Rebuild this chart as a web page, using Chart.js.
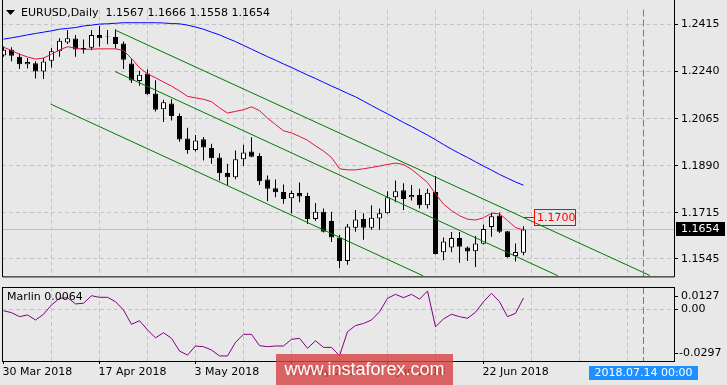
<!DOCTYPE html>
<html>
<head>
<meta charset="utf-8">
<script src="https://cdn.jsdelivr.net/npm/chart.js@4.4.0/dist/chart.umd.min.js"></script>
<style>
  html, body { margin: 0; padding: 0; background: #e8e8e8; }
  #wrap { position: relative; width: 727px; height: 385px; overflow: hidden; background: #e8e8e8; }
  #main { position: absolute; left: 0; top: 0; }
  #sub { position: absolute; left: 0; top: 286px; }
  #wm {
    position: absolute; left: 276px; top: 354px; width: 177px; height: 31px;
    background: rgba(214, 70, 70, 0.82); color: #fff;
    font: 18px "Liberation Sans", Arial, sans-serif; line-height: 31px; text-align: center;
  }
</style>
</head>
<body>
<div id="wrap">
  <canvas id="main" width="727" height="286"></canvas>
  <canvas id="sub" width="727" height="99"></canvas>
  <div id="wm">www.instaforex.com</div>
</div>
<script>
// daily bars, EURUSD
const dates = ['30 Mar','2 Apr','3 Apr','4 Apr','5 Apr','6 Apr','9 Apr','10 Apr','11 Apr','12 Apr',
  '13 Apr','16 Apr','17 Apr','18 Apr','19 Apr','20 Apr','23 Apr','24 Apr','25 Apr','26 Apr',
  '27 Apr','30 Apr','1 May','2 May','3 May','4 May','7 May','8 May','9 May','10 May',
  '11 May','14 May','15 May','16 May','17 May','18 May','21 May','22 May','23 May','24 May',
  '25 May','28 May','29 May','30 May','31 May','1 Jun','4 Jun','5 Jun','6 Jun','7 Jun',
  '8 Jun','11 Jun','12 Jun','13 Jun','14 Jun','15 Jun','18 Jun','19 Jun','20 Jun','21 Jun',
  '22 Jun','25 Jun','26 Jun','27 Jun','28 Jun','29 Jun'];

const open = [1.2299,1.2321,1.2295,1.2267,1.2271,1.2240,1.2280,1.2315,1.2348,1.2362,
  1.2327,1.2328,1.2375,1.2372,1.2368,1.2344,1.2270,1.2205,1.2233,1.2158,
  1.2100,1.2121,1.2075,1.1991,1.1949,1.1989,1.1956,1.1921,1.1863,1.1848,
  1.1914,1.1943,1.1926,1.1839,1.1807,1.1793,1.1770,1.1789,1.1778,1.1693,
  1.1720,1.1685,1.1624,1.1537,1.1660,1.1693,1.1660,1.1695,1.1714,1.1773,
  1.1799,1.1773,1.1782,1.1744,1.1793,1.1569,1.1587,1.1622,1.1587,1.1573,
  1.1601,1.1663,1.1706,1.1647,1.1555,1.1567];
const high = [1.2333,1.2330,1.2307,1.2290,1.2278,1.2290,1.2327,1.2363,1.2394,1.2375,
  1.2359,1.2394,1.2409,1.2394,1.2397,1.2351,1.2287,1.2243,1.2247,1.2208,
  1.2135,1.2137,1.2084,1.2031,1.2004,1.1997,1.1972,1.1937,1.1898,1.1947,
  1.1968,1.1996,1.1937,1.1854,1.1839,1.1821,1.1798,1.1828,1.1790,1.1752,
  1.1732,1.1720,1.1633,1.1674,1.1726,1.1714,1.1744,1.1732,1.1796,1.1836,
  1.1825,1.1819,1.1805,1.1805,1.1852,1.1624,1.1644,1.1644,1.1591,1.1630,
  1.1672,1.1716,1.1717,1.1648,1.1602,1.1666];
const low = [1.2295,1.2278,1.2249,1.2251,1.2214,1.2212,1.2255,1.2295,1.2342,1.2295,
  1.2307,1.2319,1.2333,1.2341,1.2324,1.2249,1.2197,1.2187,1.2154,1.2092,
  1.2053,1.2058,1.1979,1.1935,1.1943,1.1910,1.1898,1.1836,1.1817,1.1840,
  1.1889,1.1922,1.1819,1.1759,1.1773,1.1749,1.1714,1.1755,1.1674,1.1685,
  1.1643,1.1607,1.1511,1.1523,1.1645,1.1616,1.1653,1.1653,1.1712,1.1755,
  1.1726,1.1761,1.1732,1.1732,1.1561,1.1540,1.1569,1.1530,1.1537,1.1515,
  1.1598,1.1627,1.1641,1.1549,1.1535,1.1558];
const close = [1.2321,1.2298,1.2267,1.2275,1.2240,1.2277,1.2315,1.2354,1.2363,1.2322,
  1.2322,1.2375,1.2363,1.2370,1.2342,1.2284,1.2207,1.2228,1.2156,1.2098,
  1.2126,1.2075,1.1988,1.1949,1.1984,1.1958,1.1918,1.1862,1.1848,1.1914,
  1.1939,1.1924,1.1833,1.1805,1.1792,1.1767,1.1789,1.1776,1.1693,1.1720,
  1.1645,1.1624,1.1537,1.1665,1.1691,1.1660,1.1697,1.1714,1.1773,1.1796,
  1.1767,1.1782,1.1744,1.1790,1.1563,1.1609,1.1622,1.1590,1.1572,1.1602,
  1.1656,1.1703,1.1645,1.1552,1.1570,1.1654];

// moving averages (red fast, blue slow)
const maFast = [1.2330,1.2318,1.2304,1.2294,1.2286,1.2290,1.2304,1.2320,1.2332,1.2327,
  1.2322,1.2323,1.2324,1.2324,1.2324,1.2318,1.2288,1.2254,1.2231,1.2217,
  1.2201,1.2186,1.2168,1.2148,1.2142,1.2137,1.2128,1.2105,1.2086,1.2092,
  1.2098,1.2109,1.2095,1.2067,1.2043,1.2020,1.2012,1.1999,1.1985,1.1964,
  1.1945,1.1921,1.1879,1.1875,1.1875,1.1879,1.1884,1.1889,1.1895,1.1900,
  1.1895,1.1877,1.1853,1.1828,1.1786,1.1748,1.1724,1.1705,1.1692,1.1689,
  1.1697,1.1714,1.1712,1.1687,1.1661,1.1652];
const maSlow = [1.2360,1.2365,1.2370,1.2376,1.2381,1.2386,1.2391,1.2397,1.2400,1.2403,
  1.2409,1.2412,1.2416,1.2417,1.2419,1.2421,1.2421,1.2421,1.2421,1.2421,
  1.2420,1.2418,1.2417,1.2412,1.2405,1.2397,1.2386,1.2376,1.2363,1.2351,
  1.2337,1.2323,1.2309,1.2295,1.2282,1.2268,1.2255,1.2241,1.2227,1.2214,
  1.2200,1.2186,1.2173,1.2159,1.2146,1.2130,1.2114,1.2098,1.2083,1.2067,
  1.2051,1.2036,1.2020,1.2004,1.1987,1.1969,1.1952,1.1936,1.1921,1.1905,
  1.1889,1.1874,1.1858,1.1844,1.1830,1.1818];

// Marlin oscillator
const marlin = [-0.0009,-0.0020,-0.0043,-0.0033,-0.0062,-0.0029,0.0024,0.0062,0.0066,0.0030,
  0.0034,0.0077,0.0068,0.0068,0.0043,-0.0005,-0.0087,-0.0066,-0.0119,-0.0164,
  -0.0135,-0.0167,-0.0240,-0.0263,-0.0211,-0.0215,-0.0234,-0.0268,-0.0268,-0.0190,
  -0.0144,-0.0144,-0.0209,-0.0215,-0.0211,-0.0211,-0.0173,-0.0167,-0.0224,-0.0181,
  -0.0219,-0.0219,-0.0267,-0.0129,-0.0094,-0.0082,-0.0062,-0.0015,0.0062,0.0085,
  0.0066,0.0085,0.0057,0.0104,-0.0101,-0.0056,-0.0029,-0.0043,-0.0052,-0.0018,
  0.0043,0.0091,0.0043,-0.0043,-0.0024,0.0064];

// channel lines, [bar index, price] at both ends
const channelUpper = [[13.94, 1.2394], [80.8, 1.1483]];
const channelMiddle = [[13.94, 1.2240], [69.3, 1.1482]];
const channelLower = [[5.9, 1.2119], [52.44, 1.1482]];

const priceTicks = [1.2415, 1.2240, 1.2065, 1.1890, 1.1715, 1.1545];
const marlinTicks = [0.0127, 0.00, -0.0297];
const marlinTickText = ['0.0127', '0.00', '-0.0297'];
const xGridIdx = [0, 6, 12, 18, 24, 30, 36, 42, 48, 54, 60, 66, 72, 78];
const xLabelIdx = [0, 12, 24, 36, 48, 60];
const priceLabel = 1.1700;
const cursorIdx = 80;
const cursorText = '2018.07.14 00:00';

const X_MIN = -0.1875, X_MAX = 83.8125;
const GRID = '#c4c4c4';
const FONT = '11px "DejaVu Sans"';

Chart.defaults.font.family = '"DejaVu Sans", sans-serif';
Chart.defaults.font.size = 11;
Chart.defaults.color = '#000';
Chart.defaults.animation = false;
Chart.defaults.plugins.legend.display = false;
Chart.defaults.plugins.tooltip.enabled = false;

const bars = open.map((_, i) => i);
const pts = arr => arr.map((v, i) => ({ x: i, y: v }));
const seg = arr => arr.map(([x, y]) => ({ x, y }));
const last = open.length - 1;

function lineSet(data, color) {
  return { type: 'line', data, borderColor: color, borderWidth: 1, pointRadius: 0, tension: 0, order: 1 };
}

function xAxis(withLabels) {
  return {
    type: 'linear', min: X_MIN, max: X_MAX, offset: false,
    afterBuildTicks: s => { s.ticks = xGridIdx.map(v => ({ value: v })); },
    ticks: {
      display: withLabels, autoSkip: false, maxRotation: 0, align: 'start', padding: 2, labelOffset: -1,
      callback: v => (xLabelIdx.includes(v) ? dates[v] + ' 2018' : '')
    },
    grid: {
      offset: false, color: c => (c.tick && c.tick.value === 0 ? 'rgba(0,0,0,0)' : GRID),
      drawTicks: withLabels, tickLength: 3,
      tickColor: c => (c.tick && xLabelIdx.includes(c.tick.value) ? '#000' : 'rgba(0,0,0,0)')
    },
    border: { display: false, dash: [4, 3] },
    afterFit: s => { s.height = withLabels ? 24 : 2; }
  };
}

function vDash(chart) {
  const { ctx, chartArea: a, scales: { x } } = chart;
  const fx = Math.floor(x.getPixelForValue(cursorIdx)) + 0.5;
  ctx.save();
  ctx.strokeStyle = '#1e90ff';
  ctx.lineWidth = 1;
  ctx.setLineDash([7, 3]);
  ctx.beginPath(); ctx.moveTo(fx, a.top); ctx.lineTo(fx, a.bottom); ctx.stroke();
  ctx.restore();
  return fx;
}

const mainOverlay = {
  id: 'mainOverlay',
  beforeDatasetsDraw(chart) {
    const { ctx, chartArea: a, scales: { y } } = chart;
    const py = Math.floor(y.getPixelForValue(close[last])) + 0.5;
    ctx.save();
    ctx.strokeStyle = '#c0c0c0'; ctx.lineWidth = 1;
    ctx.beginPath(); ctx.moveTo(a.left, py); ctx.lineTo(a.right, py); ctx.stroke();
    ctx.restore();
  },
  afterDraw(chart) {
    const { ctx, chartArea: a, scales: { x, y } } = chart;
    vDash(chart);
    ctx.save();
    // frame
    ctx.strokeStyle = '#000'; ctx.lineWidth = 1;
    ctx.beginPath();
    ctx.moveTo(a.left + 0.5, 0); ctx.lineTo(a.left + 0.5, a.bottom + 0.5);
    ctx.lineTo(a.right + 0.5, a.bottom + 0.5); ctx.lineTo(a.right + 0.5, 0);
    ctx.stroke();

    // title
    ctx.fillStyle = '#000';
    ctx.beginPath(); ctx.moveTo(6, 10); ctx.lineTo(15, 10); ctx.lineTo(10.5, 15); ctx.closePath(); ctx.fill();
    ctx.font = FONT; ctx.textBaseline = 'middle'; ctx.textAlign = 'left';
    ctx.fillText('EURUSD,Daily  ' + [open[last], high[last], low[last], close[last]].map(v => v.toFixed(4)).join(' '), 21, 13.5);

    // price label with pointer
    const ly = Math.floor(y.getPixelForValue(priceLabel)) + 0.5;
    const lx = Math.floor(x.getPixelForValue(last));
    ctx.strokeStyle = '#ff0000';
    ctx.beginPath(); ctx.moveTo(lx, ly); ctx.lineTo(lx + 11, ly); ctx.stroke();
    ctx.strokeRect(lx + 11.5, ly - 8, 41, 16);
    ctx.fillStyle = '#ff0000';
    ctx.fillText(priceLabel.toFixed(4), lx + 14, ly + 0.5);

    // current price box on the axis
    const cy = Math.floor(y.getPixelForValue(close[last]));
    ctx.fillStyle = '#000';
    ctx.fillRect(a.right + 2, cy - 7, 49, 14);
    ctx.fillStyle = '#fff';
    ctx.fillText(close[last].toFixed(4), a.right + 7, cy + 0.5);
    ctx.restore();
  }
};

const subOverlay = {
  id: 'subOverlay',
  afterDraw(chart) {
    const { ctx, chartArea: a, scales: { y } } = chart;
    const fx = vDash(chart);
    ctx.save();
    ctx.strokeStyle = '#000'; ctx.lineWidth = 1;
    ctx.strokeRect(a.left + 0.5, a.top + 0.5, a.right - a.left, a.bottom - a.top);

    ctx.font = FONT; ctx.textBaseline = 'middle'; ctx.textAlign = 'left';
    ctx.fillStyle = '#000';
    ctx.fillText('Marlin ' + marlin[last].toFixed(4), 7, a.top + 10);

    marlinTicks.forEach((v, i) => {
      const py = Math.min(Math.max(y.getPixelForValue(v), a.top + 9), a.bottom - 8);
      const ty = Math.floor(py) + 0.5;
      ctx.beginPath(); ctx.moveTo(a.right, ty); ctx.lineTo(a.right + 4, ty); ctx.stroke();
      ctx.fillText(marlinTickText[i], a.right + (v < 0 ? 5 : 7), py);
    });

    // cursor time box
    ctx.fillStyle = '#1e90ff';
    ctx.fillRect(Math.floor(fx) - 54, a.bottom + 5, 109, 14);
    ctx.fillStyle = '#fff'; ctx.textAlign = 'center';
    ctx.fillText(cursorText, fx, a.bottom + 12);
    ctx.restore();
  }
};

new Chart(document.getElementById('main'), {
  type: 'bar',
  data: {
    datasets: [
      lineSet(pts(maSlow), '#0000ff'),
      lineSet(pts(maFast), '#dc143c'),
      lineSet(seg(channelUpper), '#007800'),
      lineSet(seg(channelMiddle), '#007800'),
      lineSet(seg(channelLower), '#007800'),
      {
        type: 'bar', data: bars.map(i => ({ x: i, y: [low[i], high[i]] })),
        backgroundColor: '#000', borderWidth: 0, barThickness: 1, grouped: false, inflateAmount: 0, order: 5
      },
      {
        type: 'bar', data: bars.map(i => ({ x: i, y: [open[i], close[i]] })),
        backgroundColor: bars.map(i => (close[i] >= open[i] ? '#ffffff' : '#000000')),
        borderColor: '#000', borderWidth: 1, borderSkipped: false,
        barThickness: 5, grouped: false, inflateAmount: 0, order: 4
      }
    ]
  },
  options: {
    responsive: false,
    devicePixelRatio: 1,
    layout: { padding: { left: 2, top: 0, right: 0, bottom: 0 } },
    scales: {
      x: xAxis(false),
      y: {
        type: 'linear', position: 'right', min: 1.14797, max: 1.24697,
        afterBuildTicks: s => { s.ticks = priceTicks.map(v => ({ value: v })); },
        ticks: { padding: 3, callback: v => v.toFixed(4) },
        grid: { color: GRID, tickColor: '#000', tickLength: 4 },
        border: { display: false, dash: [4, 3] },
        afterFit: s => { s.width = 53; }
      }
    }
  },
  plugins: [mainOverlay]
});

new Chart(document.getElementById('sub'), {
  type: 'line',
  data: {
    datasets: [{ data: pts(marlin), borderColor: '#800080', borderWidth: 1, pointRadius: 0, tension: 0 }]
  },
  options: {
    responsive: false,
    devicePixelRatio: 1,
    layout: { padding: { left: 2, top: 1, right: 0, bottom: 0 } },
    scales: {
      x: xAxis(true),
      y: {
        type: 'linear', position: 'right', min: marlinTicks[2], max: marlinTicks[0],
        afterBuildTicks: s => { s.ticks = [{ value: marlinTicks[1] }]; },
        ticks: { display: false },
        grid: { color: GRID, drawTicks: false },
        border: { display: false, dash: [4, 3] },
        afterFit: s => { s.width = 53; }
      }
    }
  },
  plugins: [subOverlay]
});
</script>
</body>
</html>
